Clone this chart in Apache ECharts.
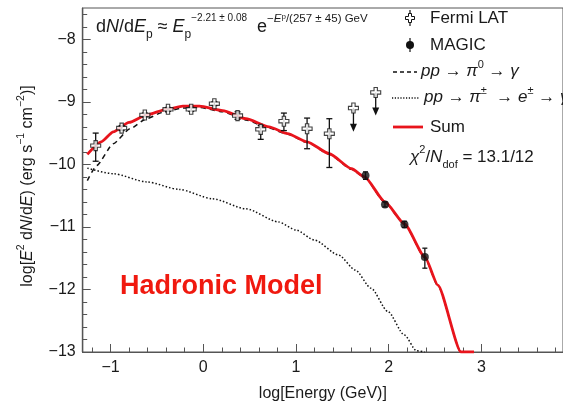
<!DOCTYPE html>
<html>
<head>
<meta charset="utf-8">
<script src="https://cdn.jsdelivr.net/npm/echarts@6/dist/echarts.min.js"></script>
<style>
  html, body { margin: 0; padding: 0; background: #fff; }
  #chart { width: 563px; height: 407px; }
</style>
</head>
<body>
<div id="chart"></div>
<script>
const FONT = '"Liberation Sans", Arial, Helvetica, sans-serif';
const MINUS = '\u2212';

// Axis ticks
const xMajorTicks = [-1, 0, 1, 2, 3];
const xMinorTicks = [-1.2, -1.0, -0.8, -0.6, -0.4, -0.2, 0, 0.2, 0.4, 0.6, 0.8, 1.0, 1.2, 1.4, 1.6, 1.8, 2.0, 2.2, 2.4, 2.6, 2.8, 3.0, 3.2, 3.4, 3.6, 3.8];
const yMajorTicks = [-13, -12, -11, -10, -9, -8];
const yMinorTicks = [-13, -12.8, -12.6, -12.4, -12.2, -12, -11.8, -11.6, -11.4, -11.2, -11, -10.8, -10.6, -10.4, -10.2, -10, -9.8, -9.6, -9.4, -9.2, -9, -8.8, -8.6, -8.4, -8.2, -8, -7.8, -7.6];

// Fermi-LAT flux points: log E [GeV], log E^2 dN/dE, lower and upper error bounds
const fermiX  = [-1.16, -0.88, -0.63, -0.38, -0.13, 0.12, 0.37, 0.62, 0.87, 1.12, 1.36];
const fermiY  = [-9.70, -9.42, -9.21, -9.12, -9.12, -9.03, -9.22, -9.44, -9.31, -9.43, -9.51];
const fermiLo = [-9.95, -9.46, -9.24, -9.15, -9.15, -9.06, -9.28, -9.60, -9.46, -9.75, -10.05];
const fermiHi = [-9.50, -9.38, -9.18, -9.09, -9.09, -9.00, -9.16, -9.38, -9.18, -9.26, -9.27];

// Fermi-LAT upper limits: point and arrow tip
const ulX   = [1.62, 1.86];
const ulY   = [-9.10, -8.85];
const ulTip = [-9.48, -9.22];

// MAGIC flux points
const magicX  = [1.75, 1.96, 2.17, 2.39];
const magicY  = [-10.18, -10.64, -10.96, -11.48];
const magicLo = [-10.24, -10.68, -11.01, -11.66];
const magicHi = [-10.12, -10.60, -10.91, -11.34];

// Model curves: log E [GeV] and log E^2 dN/dE
const sumX = [-1.25, -1.10, -0.97, -0.80, -0.61, -0.40, -0.22, -0.04, 0.21, 0.46, 0.71, 0.91, 1.12, 1.36, 1.60, 1.74, 1.96, 2.17, 2.39, 2.53, 2.78, 2.92];
const sumY = [-9.84, -9.64, -9.48, -9.33, -9.21, -9.12, -9.07, -9.07, -9.14, -9.27, -9.40, -9.51, -9.64, -9.83, -10.07, -10.20, -10.60, -10.95, -11.48, -11.93, -13.0, -13.0];

const pi0X = [-1.25, -1.15, -0.97, -0.79, -0.61, -0.44, -0.22, -0.04, 0.21, 0.46, 0.71, 0.91, 1.12, 1.36, 1.60, 1.74, 1.96, 2.17, 2.39, 2.53, 2.78, 2.92];
const pi0Y = [-10.26, -10.02, -9.67, -9.43, -9.27, -9.17, -9.10, -9.09, -9.16, -9.29, -9.42, -9.52, -9.65, -9.84, -10.08, -10.21, -10.61, -10.96, -11.49, -11.94, -13.0, -13.0];

const secX = [-1.25, -0.97, -0.61, -0.26, 0.10, 0.46, 0.81, 1.00, 1.20, 1.46, 1.64, 1.81, 1.99, 2.17, 2.30, 2.39];
const secY = [-10.06, -10.15, -10.28, -10.40, -10.55, -10.71, -10.92, -11.05, -11.21, -11.45, -11.69, -11.98, -12.35, -12.73, -12.98, -13.0];

const zip = (a, b) => a.map((v, i) => [v, b[i]]);
const zip3 = (a, b, c) => a.map((v, i) => [v, b[i], c[i]]);

const AXIS_COLOR = '#555';
const TEXT_COLOR = '#1a1a1a';
const RED = '#e8141c';

const crossPath = 'path://M-1,-3L1,-3L1,-1L3,-1L3,1L1,1L1,3L-1,3L-1,1L-3,1L-3,-1L-1,-1Z';

// outline of an open cross centred on (cx, cy)
function crossPoints(cx, cy, h) {
  const a = h / 3;
  return [[-a, -h], [a, -h], [a, -a], [h, -a], [h, a], [a, a], [a, h], [-a, h], [-a, a], [-h, a], [-h, -a], [-a, -a]]
    .map(p => [cx + p[0], cy + p[1]]);
}

function errorBarRender(capHalf) {
  return function (params, api) {
    const x = api.value(0);
    const lo = api.coord([x, api.value(1)]);
    const hi = api.coord([x, api.value(2)]);
    const st = { stroke: '#111', lineWidth: 1.3 };
    return {
      type: 'group',
      children: [
        { type: 'line', shape: { x1: lo[0], y1: lo[1], x2: hi[0], y2: hi[1] }, style: st },
        { type: 'line', shape: { x1: lo[0] - capHalf, y1: lo[1], x2: lo[0] + capHalf, y2: lo[1] }, style: st },
        { type: 'line', shape: { x1: hi[0] - capHalf, y1: hi[1], x2: hi[0] + capHalf, y2: hi[1] }, style: st }
      ]
    };
  };
}

function upperLimitRender(params, api) {
  const x = api.value(0);
  const top = api.coord([x, api.value(1)]);
  const tip = api.coord([x, api.value(2)]);
  return {
    type: 'group',
    children: [
      { type: 'line', shape: { x1: top[0], y1: top[1], x2: tip[0], y2: tip[1] - 6 }, style: { stroke: '#111', lineWidth: 1.3 } },
      { type: 'polygon', shape: { points: [[tip[0] - 3.5, tip[1] - 8], [tip[0] + 3.5, tip[1] - 8], [tip[0], tip[1]]] }, style: { fill: '#111' } }
    ]
  };
}

const tickFmt = v => String(v).replace('-', MINUS);

const option = {
  backgroundColor: '#fff',
  animation: false,
  grid: {
    left: 82.7, top: 8, right: -2, bottom: 53.5,
    show: true, borderColor: AXIS_COLOR, borderWidth: 1, backgroundColor: 'transparent'
  },
  xAxis: [
    {
      type: 'value', min: -1.3, max: 3.88, position: 'bottom',
      axisLine: { show: true, onZero: false, lineStyle: { color: AXIS_COLOR, width: 1.2 } },
      axisTick: { show: true, inside: true, length: 8, customValues: xMajorTicks, lineStyle: { color: AXIS_COLOR } },
      axisLabel: { show: true, customValues: xMajorTicks, formatter: tickFmt, fontFamily: FONT, fontSize: 16, color: TEXT_COLOR, margin: 8 },
      splitLine: { show: false },
      name: 'log[Energy (GeV)]', nameLocation: 'middle', nameGap: 34,
      nameTextStyle: { fontFamily: FONT, fontSize: 16, color: TEXT_COLOR }
    },
    {
      type: 'value', min: -1.3, max: 3.88, position: 'bottom',
      axisLine: { show: true, onZero: false, lineStyle: { color: AXIS_COLOR, width: 1.2 } },
      axisTick: { show: true, inside: true, length: 4.5, customValues: xMinorTicks, lineStyle: { color: AXIS_COLOR } },
      axisLabel: { show: false },
      splitLine: { show: false }
    }
  ],
  yAxis: [
    {
      type: 'value', min: -13, max: -7.5, position: 'left',
      axisLine: { show: true, onZero: false, lineStyle: { color: AXIS_COLOR, width: 1.2 } },
      axisTick: { show: true, inside: true, length: 8, customValues: yMajorTicks, lineStyle: { color: AXIS_COLOR } },
      axisLabel: { show: true, customValues: yMajorTicks, formatter: tickFmt, fontFamily: FONT, fontSize: 16, color: TEXT_COLOR, margin: 7 },
      splitLine: { show: false }
    },
    {
      type: 'value', min: -13, max: -7.5, position: 'left',
      axisLine: { show: true, onZero: false, lineStyle: { color: AXIS_COLOR, width: 1.2 } },
      axisTick: { show: true, inside: true, length: 4.5, customValues: yMinorTicks, lineStyle: { color: AXIS_COLOR } },
      axisLabel: { show: false },
      splitLine: { show: false }
    }
  ],
  series: [
    {
      name: 'pp → π± → e± → γ', type: 'line', data: zip(secX, secY),
      showSymbol: false, smooth: 0.25, smoothMonotone: 'x',
      lineStyle: { color: '#111', width: 1.5, type: [1.5, 2] }, z: 2
    },
    {
      name: 'pp → π0 → γ', type: 'line', data: zip(pi0X, pi0Y),
      showSymbol: false, smooth: 0.2, smoothMonotone: 'x',
      lineStyle: { color: '#111', width: 1.5, type: [5, 4] }, z: 2
    },
    {
      name: 'Sum', type: 'line', data: zip(sumX, sumY),
      showSymbol: false, smooth: 0.2, smoothMonotone: 'x',
      lineStyle: { color: RED, width: 2.8 }, z: 3
    },
    {
      name: 'Fermi LAT errors', type: 'custom', renderItem: errorBarRender(3),
      data: zip3(fermiX, fermiLo, fermiHi), z: 4, silent: true
    },
    {
      name: 'Fermi LAT', type: 'scatter', data: zip(fermiX, fermiY),
      symbol: crossPath, symbolSize: 10,
      itemStyle: { color: '#fff', borderColor: '#111', borderWidth: 1.1 }, z: 5
    },
    {
      name: 'Fermi LAT limits', type: 'custom', renderItem: upperLimitRender,
      data: zip3(ulX, ulY, ulTip), z: 4, silent: true
    },
    {
      name: 'Fermi LAT UL', type: 'scatter', data: zip(ulX, ulY),
      symbol: crossPath, symbolSize: 10,
      itemStyle: { color: '#fff', borderColor: '#111', borderWidth: 1.1 }, z: 5
    },
    {
      name: 'MAGIC errors', type: 'custom', renderItem: errorBarRender(2.5),
      data: zip3(magicX, magicLo, magicHi), z: 4, silent: true
    },
    {
      name: 'MAGIC', type: 'scatter', data: zip(magicX, magicY),
      symbol: 'circle', symbolSize: 8,
      itemStyle: { color: '#111' }, z: 5
    }
  ],
  graphic: [
    // fit formula
    {
      type: 'text', x: 96, y: 27,
      style: {
        text: '{m|d}{i|N}{m|/d}{i|E}{sb|p}{m| ≈ }{i|E}{sb|p}{sp1|−2.21 ± 0.08}{m|  e}{sp|−}{spi|E}{sps|p}{sp|/(257 ± 45) GeV}',
        verticalAlign: 'middle', fill: TEXT_COLOR, font: '18px ' + FONT,
        rich: {
          m: { fontSize: 18, fontFamily: FONT, lineHeight: 28, verticalAlign: 'middle' },
          i: { fontSize: 18, fontFamily: FONT, fontStyle: 'italic', lineHeight: 28, verticalAlign: 'middle' },
          sb: { fontSize: 12, fontFamily: FONT, lineHeight: 14, verticalAlign: 'bottom' },
          sp1: { fontSize: 10, fontFamily: FONT, lineHeight: 14, verticalAlign: 'top' },
          sp: { fontSize: 11.5, fontFamily: FONT, lineHeight: 14, verticalAlign: 'top' },
          spi: { fontSize: 11.5, fontFamily: FONT, fontStyle: 'italic', lineHeight: 14, verticalAlign: 'top' },
          sps: { fontSize: 8, fontFamily: FONT, lineHeight: 22, verticalAlign: 'top' }
        }
      }
    },
    // legend: Fermi LAT
    { type: 'line', shape: { x1: 410, y1: 10, x2: 410, y2: 26 }, style: { stroke: '#111', lineWidth: 1.2 } },
    { type: 'polygon', shape: { points: crossPoints(410, 18, 4.5) }, style: { fill: '#fff', stroke: '#111', lineWidth: 1 } },
    { type: 'text', x: 430, y: 18, style: { text: 'Fermi LAT', fill: TEXT_COLOR, font: '17px ' + FONT, verticalAlign: 'middle' } },
    // legend: MAGIC
    { type: 'line', shape: { x1: 410, y1: 38, x2: 410, y2: 52 }, style: { stroke: '#111', lineWidth: 1.2 } },
    { type: 'circle', shape: { cx: 410, cy: 45, r: 4 }, style: { fill: '#111' } },
    { type: 'text', x: 430, y: 45, style: { text: 'MAGIC', fill: TEXT_COLOR, font: '17px ' + FONT, verticalAlign: 'middle' } },
    // legend: pi0
    { type: 'line', shape: { x1: 393, y1: 72, x2: 417, y2: 72 }, style: { stroke: '#111', lineWidth: 1.4, lineDash: [4, 3] } },
    {
      type: 'text', x: 421, y: 71,
      style: {
        text: '{i|pp}{m| → }{i|π}{sp|0}{m| → }{i|γ}', verticalAlign: 'middle', fill: TEXT_COLOR,
        rich: {
          m: { fontSize: 17, fontFamily: FONT, lineHeight: 24, verticalAlign: 'middle' },
          i: { fontSize: 17, fontFamily: FONT, fontStyle: 'italic', lineHeight: 24, verticalAlign: 'middle' },
          sp: { fontSize: 11, fontFamily: FONT, lineHeight: 13, verticalAlign: 'top' }
        }
      }
    },
    // legend: pi+-
    { type: 'line', shape: { x1: 392, y1: 98, x2: 420, y2: 98 }, style: { stroke: '#111', lineWidth: 1.4, lineDash: [1.2, 1.6] } },
    {
      type: 'text', x: 424, y: 97,
      style: {
        text: '{i|pp}{m| → }{i|π}{sp|±}{m|  → }{i|e}{sp|±}{m| → }{i|γ}', verticalAlign: 'middle', fill: TEXT_COLOR,
        rich: {
          m: { fontSize: 17, fontFamily: FONT, lineHeight: 24, verticalAlign: 'middle' },
          i: { fontSize: 17, fontFamily: FONT, fontStyle: 'italic', lineHeight: 24, verticalAlign: 'middle' },
          sp: { fontSize: 11, fontFamily: FONT, lineHeight: 13, verticalAlign: 'top' }
        }
      }
    },
    // legend: Sum
    { type: 'line', shape: { x1: 393, y1: 127, x2: 423, y2: 127 }, style: { stroke: RED, lineWidth: 2.8 } },
    { type: 'text', x: 430, y: 127, style: { text: 'Sum', fill: TEXT_COLOR, font: '17px ' + FONT, verticalAlign: 'middle' } },
    // goodness of fit
    {
      type: 'text', x: 410, y: 157,
      style: {
        text: '{i|χ}{sp|2}{m|/}{i|N}{sb|dof}{m| = 13.1/12}', verticalAlign: 'middle', fill: TEXT_COLOR,
        rich: {
          m: { fontSize: 17, fontFamily: FONT, lineHeight: 26, verticalAlign: 'middle' },
          i: { fontSize: 17, fontFamily: FONT, fontStyle: 'italic', lineHeight: 26, verticalAlign: 'middle' },
          sp: { fontSize: 11, fontFamily: FONT, lineHeight: 14, verticalAlign: 'top' },
          sb: { fontSize: 11, fontFamily: FONT, lineHeight: 14, verticalAlign: 'bottom' }
        }
      }
    },
    // model label
    { type: 'text', x: 120, y: 287, style: { text: 'Hadronic Model', fill: '#f0190f', font: 'bold 27px ' + FONT, verticalAlign: 'middle' } },
    // y-axis title
    {
      type: 'text', x: 28, y: 186, rotation: Math.PI / 2,
      style: {
        text: '{m|log[}{i|E}{sp|2}{m| d}{i|N}{m|/d}{i|E}{m|) (erg s}{sp|−1}{m| cm}{sp|−2}{m|)]}',
        align: 'center', verticalAlign: 'middle', fill: TEXT_COLOR,
        rich: {
          m: { fontSize: 16, fontFamily: FONT, lineHeight: 24, verticalAlign: 'middle' },
          i: { fontSize: 16, fontFamily: FONT, fontStyle: 'italic', lineHeight: 24, verticalAlign: 'middle' },
          sp: { fontSize: 10.5, fontFamily: FONT, lineHeight: 13, verticalAlign: 'top' }
        }
      }
    }
  ]
};

const chart = echarts.init(document.getElementById('chart'), null, { renderer: 'canvas' });
chart.setOption(option);
</script>
</body>
</html>
